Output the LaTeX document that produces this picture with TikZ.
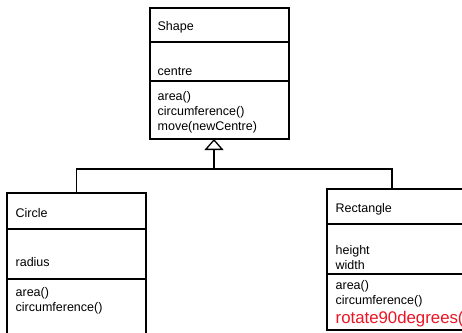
\documentclass[tikz,border=0pt]{standalone}
\usepackage{fontspec}
\setmainfont{Liberation Sans}
\usetikzlibrary{arrows.meta,positioning}
\definecolor{newop}{RGB}{235,20,35}

\begin{document}
\begin{tikzpicture}[x=1pt, y=-1pt, line width=1.3pt, font=\fontsize{12.5}{14.8}\selectfont]
        \tikzset{cls/.style={draw, anchor=north west, inner sep=0pt, outer sep=0pt},
                 txt/.style={anchor=base west, inner sep=0pt, align=left}}
        \useasboundingbox (0,0) rectangle (462,332);
        \clip (0,0) rectangle (462,332);
        % class boxes
        \node[cls, minimum width=139pt, minimum height=131pt] (shape) at (150,8) {};
        \node[cls, minimum width=139pt, minimum height=160pt] (circle) at (7,193) {};
        \node[cls, minimum width=160pt, minimum height=141pt] (rect) at (327,189) {};
        % compartments
        \draw (shape.west |- 0,42) -- (shape.east |- 0,42);
        \draw (shape.west |- 0,81) -- (shape.east |- 0,81);
        \draw (circle.west |- 0,229) -- (circle.east |- 0,229);
        \draw (circle.west |- 0,279) -- (circle.east |- 0,279);
        \draw (rect.west |- 0,224) -- (rect.east |- 0,224);
        \draw (rect.west |- 0,274) -- (rect.east |- 0,274);
        % Shape (base of a multi-line text is its last line)
        \node[txt] (shapename) at (157,30) {Shape};
        \node[txt] (shapeattr) at (157,75) {centre};
        \node[txt] (shapeops) at (157,130) {area()\\circumference()\\move(newCentre)};
        % Circle
        \node[txt] (circlename) at (15,217) {Circle};
        \node[txt] (circleattr) at (15,266) {radius};
        \node[txt] (circleops) at (15,311) {area()\\circumference()};
        % Rectangle
        \node[txt] (rectname) at (335,212) {Rectangle};
        \node[txt] (rectattr) at (335,269) {height\\width};
        \node[txt] (rectops) at (335,304) {area()\\circumference()};
        \node[txt, text=newop, font=\fontsize{16.8}{18}\selectfont] (rectnew) at (335,323) {rotate90degrees()};
        % inheritance
        \coordinate (hub) at (214,169);
        \coordinate (recttop) at (392,189);
        \draw (circle.north) |- (hub) -| (recttop);
        \draw[-{Triangle[open, width=19pt, length=11pt, line width=1.3pt]}] (hub) -- (hub |- shape.south);
    \end{tikzpicture}
\end{document}
